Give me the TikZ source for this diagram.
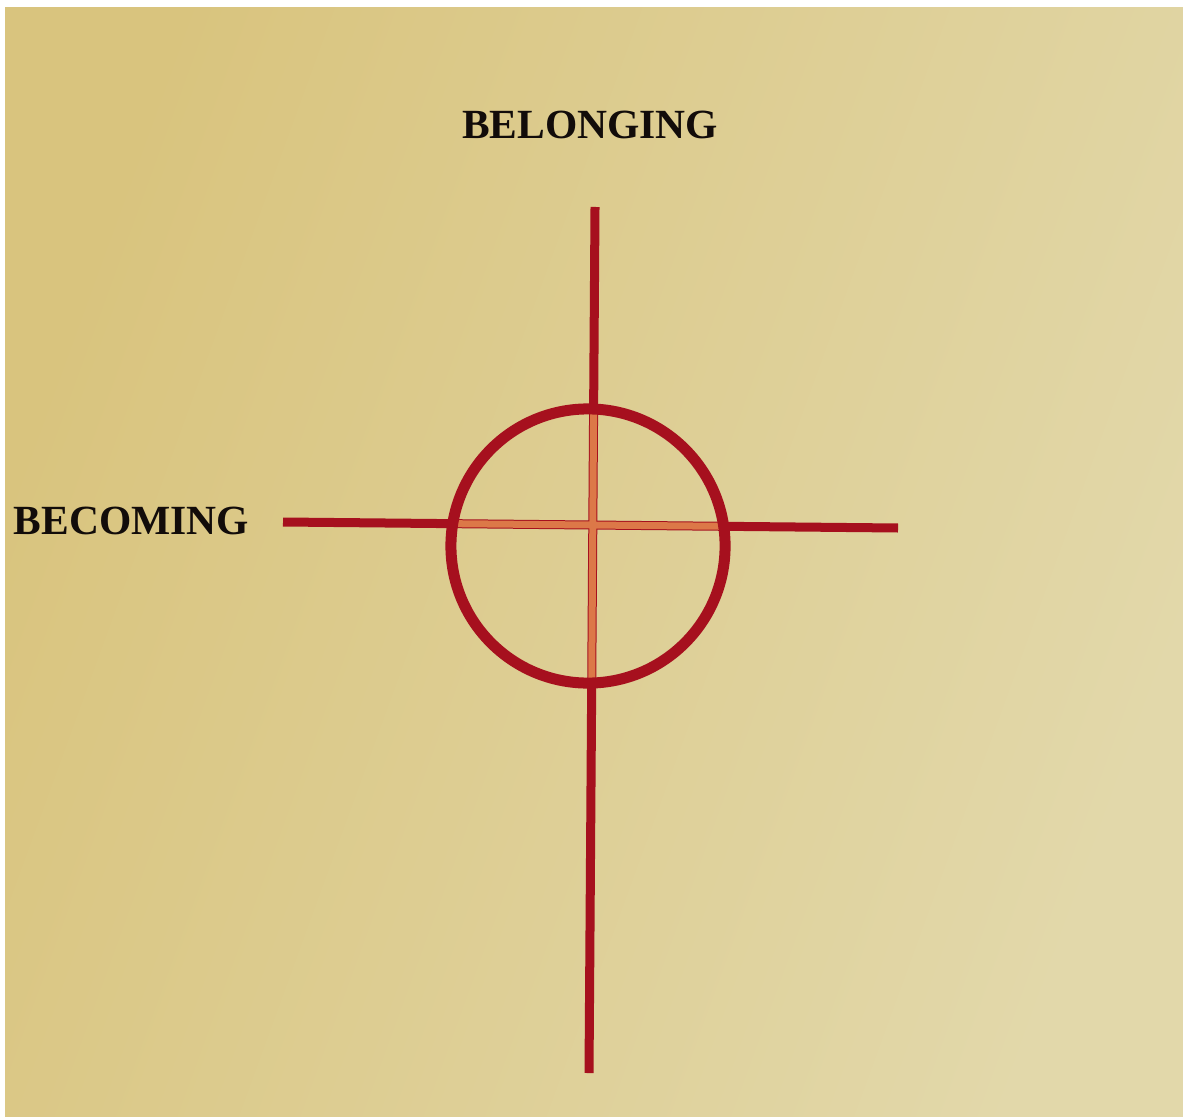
\documentclass[tikz,border=0pt]{standalone}
\usepackage{fontspec}
\setmainfont{Liberation Serif}
\definecolor{paperA}{RGB}{217,196,126}
\definecolor{paperB}{RGB}{226,216,170}
\definecolor{darkred}{RGB}{166,16,30}
\definecolor{innerorange}{RGB}{220,120,72}
\definecolor{ink}{RGB}{18,12,10}
\tikzset{
  axisline/.style={draw=darkred, line width=0.09cm},
  innerline/.style={draw=innerorange, line width=0.07cm},
  ring/.style={circle, draw=darkred, line width=0.11cm, minimum size=2.74cm, inner sep=0pt},
  label/.style={font=\bfseries\fontsize{11.8}{14}\selectfont, text=ink, inner sep=0pt}
}
\begin{document}
\begin{tikzpicture}[x=0.01cm, y=-0.01cm]
\useasboundingbox (0,0) rectangle (1183,1116);
\fill[white] (0,0) rectangle (1183,1116);
\shade[left color=paperA, right color=paperB, shading angle=70] (5,8) rectangle (1183,1116);
% coordinates
\coordinate (c) at (588,546);
\coordinate (vtop) at (595,207);
\coordinate (vbot) at (589,1073);
\coordinate (hleft) at (283,522);
\coordinate (hright) at (898,528);
% outer lines
\draw[axisline] (vtop) -- (vbot);
\draw[axisline] (hleft) -- (hright);
% inner lines
\begin{scope}
  \clip (c) circle[radius=137];
  \draw[innerline] (vtop) -- (vbot);
  \draw[innerline] (hleft) -- (hright);
\end{scope}
% ring
\node[ring] (circ) at (c) {};
% labels
\node[label] (belong) at (590,125) {BELONGING};
\node[label, anchor=west] (becom) at (13,521) {BECOMING};
\end{tikzpicture}
\end{document}
